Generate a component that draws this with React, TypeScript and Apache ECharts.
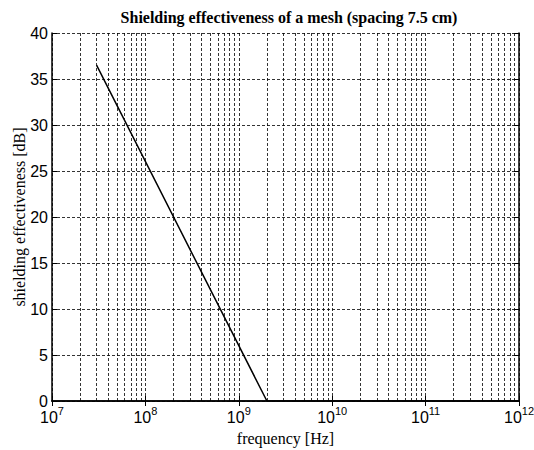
import React, { useEffect, useRef } from "react";
import * as echarts from "echarts";

const titleText = "Shielding effectiveness of a mesh (spacing 7.5 cm)";
const xName = "frequency [Hz]";
const yName = "shielding effectiveness [dB]";

// line data (frequency in Hz, shielding effectiveness in dB)
const freqHz = [3e7, 2e9, 1e12];
const seDb = [36.5, 0, 0];

// axis ranges
const xMin = 1e7;
const xMax = 1e12;
const yMin = 0;
const yMax = 40;
const yStep = 5;

// minor log grid positions
const decades = [7, 8, 9, 10, 11];
const minorMult = [2, 3, 4, 5, 6, 7, 8, 9];

export default function App() {
  const ref = useRef<HTMLDivElement>(null);
  useEffect(() => {
    if (!ref.current) return;
    const chart = echarts.init(ref.current, null, { renderer: "svg" });
    const minorLines: any[] = [];
    decades.forEach((d) =>
      minorMult.forEach((m) => minorLines.push({ xAxis: m * Math.pow(10, d) }))
    );
    const dash = { type: [3, 2] as any, color: "#000", width: 0.8 };
    const grid = { left: 52, right: 15, top: 33, bottom: 49, containLabel: false, outerBoundsMode: "none" };
    const xLabelFmt = (v: number) => `{b|10}{s|${Math.round(Math.log10(v))}}`;
    chart.setOption({
      animation: false,
      backgroundColor: "#fff",
      title: {
        text: titleText,
        left: 284,
        top: 4,
        textAlign: "center",
        textStyle: {
          fontFamily: "Liberation Serif",
          fontWeight: "bold",
          fontSize: 16,
          color: "#000",
        },
      },
      grid,
      xAxis: [
        {
          type: "log",
          logBase: 10,
          min: xMin,
          max: xMax,
          name: xName,
          nameLocation: "middle",
          nameGap: 29,
          nameMoveOverlap: false,
          nameTextStyle: { fontFamily: "Liberation Serif", fontSize: 16, color: "#000" },
          axisLine: { show: true, onZero: false, lineStyle: { color: "#000", width: 1.5 } },
          axisTick: { show: true, inside: true, length: 5, lineStyle: { color: "#000" } },
          axisLabel: {
            formatter: xLabelFmt,
            margin: 4,
            color: "#000",
            rich: {
              b: { fontFamily: "Liberation Sans", fontSize: 16, lineHeight: 20, color: "#000", verticalAlign: "bottom" },
              s: { fontFamily: "Liberation Sans", fontSize: 11, lineHeight: 11, color: "#000", verticalAlign: "top" },
            },
          },
          splitLine: { show: true, lineStyle: dash },
        },
        {
          type: "log",
          logBase: 10,
          min: xMin,
          max: xMax,
          position: "top",
          axisLine: { show: true, lineStyle: { color: "#000", width: 1.5 } },
          axisTick: { show: true, inside: true, length: 5, lineStyle: { color: "#000" } },
          axisLabel: { show: false },
          splitLine: { show: false },
        },
      ],
      yAxis: [
        {
          type: "value",
          min: yMin,
          max: yMax,
          interval: yStep,
          name: yName,
          nameLocation: "middle",
          nameGap: 25,
          nameMoveOverlap: false,
          nameTextStyle: { fontFamily: "Liberation Serif", fontSize: 16, color: "#000" },
          axisLine: { show: true, lineStyle: { color: "#000", width: 1.5 } },
          axisTick: { show: true, inside: true, length: 5, lineStyle: { color: "#000" } },
          axisLabel: { fontFamily: "Liberation Sans", fontSize: 16, lineHeight: 8, color: "#000", margin: 4 },
          splitLine: { show: true, lineStyle: dash },
        },
        {
          type: "value",
          min: yMin,
          max: yMax,
          interval: yStep,
          position: "right",
          axisLine: { show: true, lineStyle: { color: "#000", width: 1.5 } },
          axisTick: { show: true, inside: true, length: 5, lineStyle: { color: "#000" } },
          axisLabel: { show: false },
          splitLine: { show: false },
        },
      ],
      series: [
        {
          type: "line",
          data: freqHz.map((f, i) => [f, seDb[i]]),
          showSymbol: false,
          lineStyle: { color: "#000", width: 1.5 },
          z: 5,
          markLine: {
            silent: true,
            symbol: ["none", "none"],
            label: { show: false },
            lineStyle: dash,
            data: minorLines,
            z: 1,
          },
        },
      ],
    });
    return () => chart.dispose();
  }, []);
  return (
    <div
      ref={ref}
      style={{ position: "fixed", left: 0, top: 0, width: 534, height: 450 }}
    />
  );
}
